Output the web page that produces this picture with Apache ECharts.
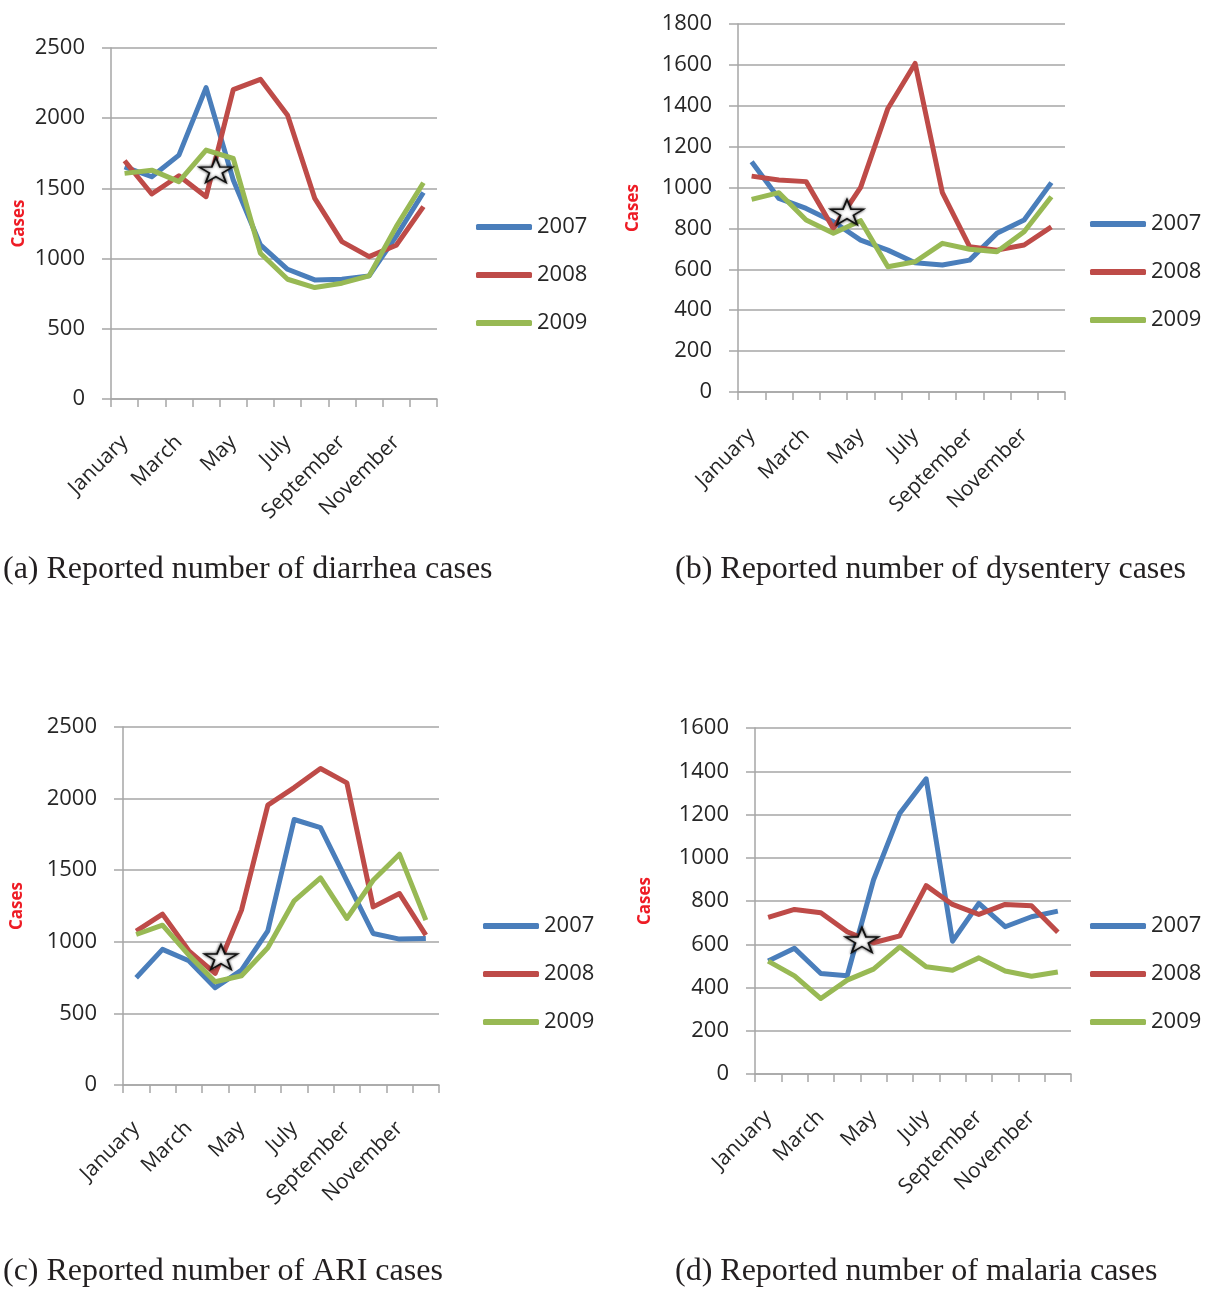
<!DOCTYPE html>
<html>
<head>
<meta charset="utf-8">
<script src="https://cdn.jsdelivr.net/npm/echarts@6/dist/echarts.min.js"></script>
<style>
html,body{margin:0;padding:0;background:#fff;}
#c{width:1210px;height:1291px;}
</style>
</head>
<body>
<div id="c"></div>
<script>
const months = ['January','February','March','April','May','June','July','August','September','October','November','December'];
const years = ['2007','2008','2009'];

const diarrhea2007 = [1654,1583,1737,2218,1560,1097,924,848,853,877,1160,1471];
const diarrhea2008 = [1697,1460,1590,1441,2204,2277,2021,1429,1121,1014,1095,1370];
const diarrhea2009 = [1607,1630,1548,1773,1713,1038,853,794,825,877,1228,1540];

const dysentery2007 = [1126,947,898,833,743,694,632,621,645,776,841,1024];
const dysentery2008 = [1056,1037,1029,800,1001,1387,1607,975,711,694,719,808];
const dysentery2009 = [942,975,841,776,838,613,637,727,698,686,784,955];

const ari2007 = [749,947,868,679,802,1077,1854,1798,1426,1058,1019,1023];
const ari2008 = [1075,1193,937,779,1221,1954,2077,2210,2110,1244,1337,1047];
const ari2009 = [1051,1116,907,721,763,958,1286,1447,1163,1430,1612,1151];

const malaria2007 = [522,581,465,454,897,1206,1365,614,789,681,727,753];
const malaria2008 = [724,761,746,658,607,639,871,784,738,784,778,655];
const malaria2009 = [522,454,349,434,485,588,496,480,537,476,452,472];

const yTicksA = {max:2500, interval:500};
const yTicksB = {max:1800, interval:200};
const yTicksC = {max:2500, interval:500};
const yTicksD = {max:1600, interval:200};

// star annotation positions (x on 0..12 month scale, y in cases)
const starA = [3.86, 1631];
const starB = [4.0, 880];
const starC = [3.72, 894];
const starD = [4.06, 620];

const captions = [
  '(a) Reported number of diarrhea cases',
  '(b) Reported number of dysentery cases',
  '(c) Reported number of ARI cases',
  '(d) Reported number of malaria cases'
];

const colors = ['#4A7EBB','#BE4B48','#98B954'];
const gray = '#A6A6A6';
const txt = '#262626';
const FONT = 'Open Sans';

const panels = [
  {grid:{left:111,top:48,width:326,height:351}, y:yTicksA, data:[diarrhea2007,diarrhea2008,diarrhea2009], star:starA, nameGap:83, legend:{left:476,top:214}, cap:{x:3,y:569}},
  {grid:{left:738,top:24,width:327,height:368}, y:yTicksB, data:[dysentery2007,dysentery2008,dysentery2009], star:starB, nameGap:96, legend:{left:1090,top:211}, cap:{x:675,y:569}},
  {grid:{left:123,top:727,width:316,height:358}, y:yTicksC, data:[ari2007,ari2008,ari2009], star:starC, nameGap:97, legend:{left:483,top:913}, cap:{x:3,y:1271}},
  {grid:{left:755,top:728,width:316,height:346}, y:yTicksD, data:[malaria2007,malaria2008,malaria2009], star:starD, nameGap:101, legend:{left:1090,top:913}, cap:{x:675,y:1271}}
];

const starPath = 'path://M50,0 L61.8,35.1 L98.1,35.1 L68.8,56.9 L79.4,91.5 L50,70 L20.6,91.5 L31.2,56.9 L1.9,35.1 L38.2,35.1 Z';

const option = {
  backgroundColor:'#fff',
  animation:false,
  grid:[], xAxis:[], yAxis:[], series:[], legend:[], graphic:[]
};

panels.forEach((p, i) => {
  option.grid.push(Object.assign({containLabel:false}, p.grid));
  option.xAxis.push({
    type:'category', gridIndex:i, data:months, boundaryGap:true,
    axisLine:{show:true, lineStyle:{color:gray, width:1.5}},
    axisTick:{show:true, interval:0, length:8, lineStyle:{color:gray, width:1.5}},
    axisLabel:{interval:1, rotate:45, margin:40, fontSize:21, fontFamily:FONT, color:txt},
    splitLine:{show:false}
  });
  option.xAxis.push({
    type:'value', gridIndex:i, min:0, max:12, show:false
  });
  option.yAxis.push({
    type:'value', gridIndex:i, min:0, max:p.y.max, interval:p.y.interval,
    name:'Cases', nameLocation:'middle', nameRotate:90, nameGap:p.nameGap,
    nameTextStyle:{color:'#EE1C25', fontWeight:'bold', fontSize:17, fontFamily:FONT},
    axisLine:{show:true, lineStyle:{color:gray, width:1.5}},
    axisTick:{show:true, length:9, lineStyle:{color:gray, width:1.5}},
    axisLabel:{margin:26, fontSize:22, fontFamily:FONT, color:txt, formatter:(v) => String(v)},
    splitLine:{show:true, lineStyle:{color:gray, width:1.5}}
  });
  years.forEach((yr, k) => {
    option.series.push({
      type:'line', name:yr, xAxisIndex:2*i, yAxisIndex:i, data:p.data[k],
      symbol:'none', smooth:false,
      lineStyle:{color:colors[k], width:5, join:'round'},
      itemStyle:{color:colors[k]}
    });
  });
  option.series.push({
    type:'scatter', name:'star', xAxisIndex:2*i+1, yAxisIndex:i, data:[p.star],
    symbol:starPath, symbolSize:[33,25], z:10, silent:true,
    itemStyle:{color:'#ffffff', borderColor:'#111', borderWidth:1.6, shadowBlur:3, shadowColor:'rgba(0,0,0,0.7)', opacity:1}
  });
  option.legend.push({
    data:years, orient:'vertical', left:p.legend.left, top:p.legend.top, padding:0,
    icon:'roundRect', itemWidth:56, itemHeight:6, itemGap:22, selectedMode:false,
    textStyle:{fontSize:22, fontFamily:FONT, color:txt, lineHeight:26}
  });
  option.graphic.push({
    type:'text', left:p.cap.x, top:p.cap.y - 15,
    style:{text:captions[i], font:'32px "Liberation Serif"', fill:'#231F20'}
  });
});

const chart = echarts.init(document.getElementById('c'), null, {renderer:'canvas'});
chart.setOption(option);
</script>
</body>
</html>
